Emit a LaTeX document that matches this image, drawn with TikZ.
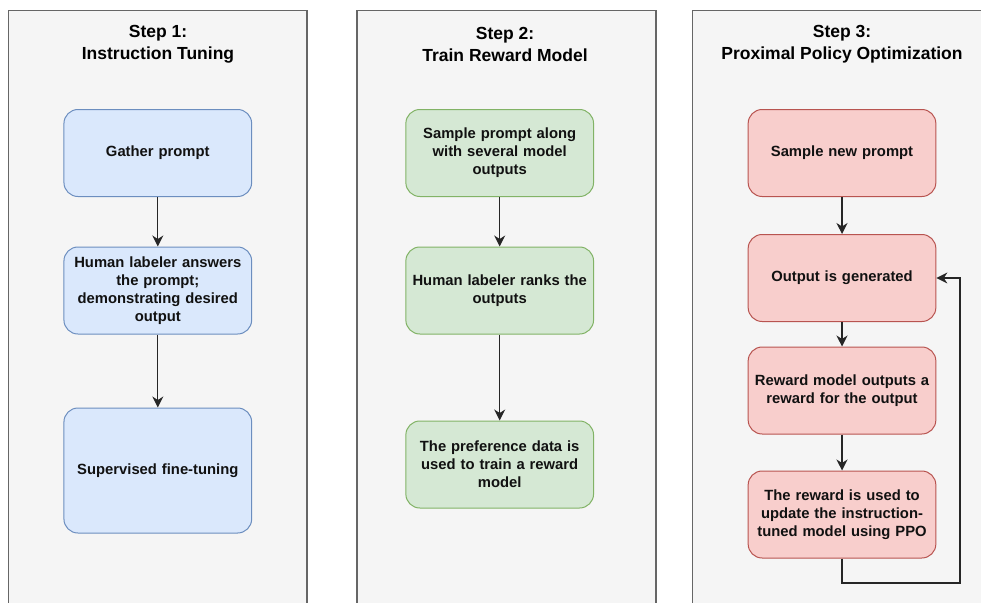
\documentclass[tikz,border=0pt]{standalone}
\usepackage{fontspec}
\setmainfont{Liberation Sans}
\usetikzlibrary{arrows.meta}

\definecolor{panelfill}{HTML}{F5F5F5}
\definecolor{paneldraw}{HTML}{666666}
\definecolor{bluefill}{HTML}{DAE8FC}
\definecolor{bluedraw}{HTML}{6C8EBF}
\definecolor{greenfill}{HTML}{D5E8D4}
\definecolor{greendraw}{HTML}{82B366}
\definecolor{redfill}{HTML}{F8CECC}
\definecolor{reddraw}{HTML}{B85450}
\definecolor{inktext}{HTML}{111111}

\tikzset{
  panel/.style={fill=panelfill, draw=paneldraw, line width=1.3pt},
  paneltitle/.style={inner sep=0pt, align=center, text=black,
    font=\bfseries\fontsize{17.5}{22}\selectfont},
  stepbox/.style={rounded corners=14pt, line width=1pt, minimum width=187.7pt,
    text width=180pt, align=center, inner sep=0pt, text=inktext,
    font=\bfseries\fontsize{14.8}{18}\selectfont},
  bluebox/.style={stepbox, fill=bluefill, draw=bluedraw},
  greenbox/.style={stepbox, fill=greenfill, draw=greendraw},
  redbox/.style={stepbox, fill=redfill, draw=reddraw},
  flow/.style={draw=black!85, line width=1.3pt,
    -{Stealth[length=11pt, width=11pt, inset=3.5pt]}},
}

\begin{document}
\begin{tikzpicture}[x=1pt, y=-1pt]
  \path[use as bounding box, clip] (0,0) rectangle (981,602);

  % the three step panels (they run past the lower edge)
  \path[panel] (8.5,10.7) rectangle (307,640);
  \path[panel] (357,10.7) rectangle (656,640);
  \path[panel] (692.5,10.7) rectangle (992,640);

  % titles
  \node[paneltitle] (t1) at (158,44) {Step 1:\\Instruction Tuning};
  \node[paneltitle] (t2) at (505,44) {Step 2:\\Train Reward Model};
  \node[paneltitle] (t3) at (842,44) {Step 3:\\Proximal Policy Optimization};

  % step 1
  \node[bluebox, minimum height=87pt] (a1) at (157.8,153) {Gather prompt};
  \node[bluebox, minimum height=87pt] (a2) at (157.8,290.5)
    {Human labeler answers\\the prompt;\\demonstrating desired\\output};
  \node[bluebox, minimum height=125pt] (a3) at (157.8,470.5) {Supervised fine-tuning};
  \draw[flow] (a1) -- (a2);
  \draw[flow] (a2) -- (a3);

  % step 2
  \node[greenbox, minimum height=87pt] (b1) at (499.7,153)
    {Sample prompt along\\with several model\\outputs};
  \node[greenbox, minimum height=87pt] (b2) at (499.7,290.5)
    {Human labeler ranks the\\outputs};
  \node[greenbox, minimum height=87pt] (b3) at (499.7,464.5)
    {The preference data is\\used to train a reward\\model};
  \draw[flow] (b1) -- (b2);
  \draw[flow] (b2) -- (b3);

  % step 3
  \node[redbox, minimum height=87pt] (c1) at (842,153) {Sample new prompt};
  \node[redbox, minimum height=87pt] (c2) at (842,278) {Output is generated};
  \node[redbox, minimum height=87pt] (c3) at (842,390.5)
    {Reward model outputs a\\reward for the output};
  \node[redbox, minimum height=87pt] (c4) at (842,514.5)
    {The reward is used to\\update the instruction-\\tuned model using PPO};
  \draw[flow] (c1) -- (c2);
  \draw[flow] (c2) -- (c3);
  \draw[flow] (c3) -- (c4);

  % feedback loop back to generation
  \coordinate (loopa) at (842,583);
  \coordinate (loopb) at (960,583);
  \draw[flow] (c4.south) -- (loopa) -- (loopb) -- (loopb |- c2.east) -- (c2.east);
\end{tikzpicture}
\end{document}
